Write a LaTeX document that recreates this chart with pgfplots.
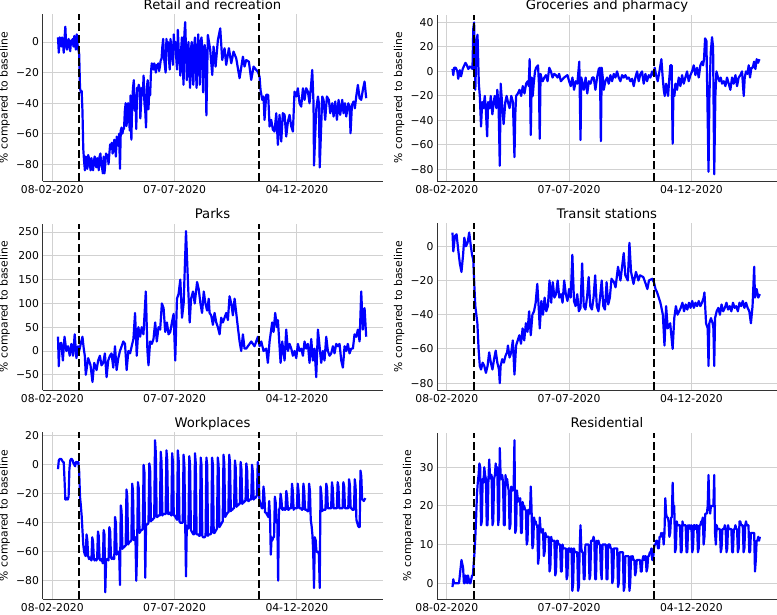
\documentclass[border=0pt]{standalone}
\usepackage{pgfplots}
\usepackage{pgfplotstable}
\pgfplotsset{compat=1.18}
\usepackage{fontspec}
\setmainfont{DejaVu Sans}

\definecolor{serblue}{RGB}{0,0,255}

% Workplaces, daily from 15-02-2020 (day 7)
\pgfplotstableread[row sep=\\, header=false]{
-3\\3\\4\\4\\4\\3\\2\\
2\\-10\\-24\\-24\\-23\\-24\\-22\\
-3\\3\\4\\4\\3\\1\\0\\
-1\\2\\2\\1\\2\\-5\\-22\\
-28\\-35\\-45\\-55\\-60\\-62\\-63\\
-48\\-52\\-63\\-65\\-64\\-65\\-66\\
-50\\-53\\-65\\-66\\-65\\-66\\-65\\
-46\\-49\\-65\\-66\\-65\\-66\\-68\\
-45\\-48\\-88\\-66\\-65\\-65\\-66\\
-43\\-46\\-64\\-65\\-64\\-65\\-65\\
-36\\-40\\-62\\-60\\-60\\-60\\-83\\
-28\\-32\\-58\\-57\\-57\\-56\\-56\\
-17\\-22\\-55\\-54\\-53\\-53\\-52\\
-13\\-18\\-52\\-51\\-50\\-80\\-60\\
-12\\-16\\-47\\-46\\-45\\-45\\-44\\
0\\-5\\-78\\-42\\-41\\-41\\-40\\
1\\-3\\-39\\-38\\-38\\-37\\-37\\
17\\8\\-36\\-36\\-35\\-35\\-35\\
9\\2\\-35\\-34\\-34\\-34\\-34\\
10\\3\\-34\\-34\\-33\\-34\\-35\\
8\\2\\-35\\-35\\-36\\-37\\-38\\
10\\3\\-39\\-40\\-40\\-40\\-40\\
7\\0\\-40\\-77\\-42\\-43\\-44\\
6\\0\\-45\\-46\\-47\\-48\\-48\\
8\\1\\-48\\-48\\-48\\-49\\-49\\
5\\0\\-49\\-50\\-50\\-50\\-49\\
5\\0\\-49\\-48\\-48\\-48\\-47\\
5\\0\\-47\\-47\\-46\\-45\\-44\\
5\\0\\-43\\-42\\-41\\-40\\-39\\
7\\1\\-36\\-35\\-34\\-33\\-33\\
7\\1\\-32\\-31\\-31\\-30\\-30\\
3\\-2\\-29\\-28\\-28\\-27\\-27\\
2\\-3\\-27\\-26\\-26\\-25\\-25\\
1\\-4\\-25\\-25\\-24\\-24\\-24\\
0\\-5\\-24\\-23\\-23\\-22\\-21\\
2\\-3\\-24\\-26\\-28\\-30\\-30\\
-15\\-20\\-33\\-33\\-34\\-35\\-36\\
-25\\-35\\-62\\-50\\-52\\-50\\-50\\
-22\\-26\\-40\\-38\\-80\\-31\\-30\\
-20\\-24\\-31\\-31\\-30\\-31\\-31\\
-18\\-22\\-31\\-31\\-30\\-30\\-30\\
-13\\-18\\-31\\-30\\-30\\-30\\-30\\
-13\\-18\\-30\\-30\\-30\\-31\\-31\\
-13\\-18\\-31\\-31\\-31\\-32\\-32\\
-13\\-18\\-38\\-42\\-48\\-60\\-85\\
-50\\-52\\-60\\-60\\-60\\-62\\-85\\
-15\\-20\\-32\\-31\\-31\\-31\\-31\\
-13\\-16\\-30\\-30\\-30\\-30\\-30\\
-12\\-16\\-30\\-30\\-30\\-30\\-30\\
-12\\-15\\-30\\-30\\-30\\-30\\-30\\
-12\\-15\\-30\\-30\\-30\\-30\\-30\\
-10\\-14\\-30\\-30\\-31\\-31\\-31\\
-10\\-15\\-38\\-40\\-42\\-43\\-43\\
-4\\-8\\-24\\-24\\-25\\-24\\-23\\
}\workdata

% Residential, daily from 15-02-2020 (day 7)
\pgfplotstableread[row sep=\\, header=false]{
-1\\1\\0\\0\\0\\0\\0\\
0\\0\\2\\4\\6\\5\\4\\
0\\0\\2\\1\\0\\2\\1\\
0\\0\\1\\2\\2\\5\\8\\
12\\17\\23\\26\\28\\31\\30\\
15\\16\\27\\26\\30\\28\\27\\
15\\15\\26\\32\\28\\27\\28\\
15\\16\\27\\28\\31\\28\\30\\
15\\17\\35\\28\\27\\28\\26\\
15\\15\\28\\26\\27\\25\\24\\
14\\15\\25\\24\\24\\25\\37\\
13\\14\\24\\22\\22\\21\\22\\
13\\13\\21\\20\\20\\19\\19\\
10\\11\\19\\18\\18\\25\\19\\
9\\10\\17\\16\\16\\15\\15\\
5\\7\\17\\14\\14\\13\\14\\
7\\8\\13\\12\\12\\12\\12\\
3\\4\\12\\11\\11\\11\\11\\
2\\3\\11\\11\\10\\10\\10\\
3\\3\\10\\9\\9\\9\\9\\
1\\2\\9\\9\\9\\8\\9\\
-2\\0\\9\\8\\8\\8\\8\\
-2\\-1\\9\\15\\9\\8\\8\\
1\\1\\10\\10\\10\\10\\10\\
1\\2\\11\\11\\11\\12\\11\\
1\\1\\11\\10\\11\\10\\10\\
3\\1\\10\\10\\10\\10\\10\\
1\\1\\10\\10\\10\\9\\9\\
0\\1\\9\\9\\9\\9\\9\\
-1\\0\\8\\8\\8\\8\\8\\
-2\\-1\\7\\7\\7\\7\\7\\
-2\\0\\7\\6\\7\\6\\6\\
2\\3\\6\\6\\6\\6\\6\\
3\\3\\6\\7\\6\\7\\7\\
3\\4\\7\\7\\8\\8\\9\\
6\\6\\9\\10\\10\\11\\11\\
9\\9\\12\\12\\13\\12\\13\\
10\\13\\22\\18\\17\\17\\16\\
12\\13\\17\\17\\26\\18\\20\\
8\\9\\16\\15\\15\\15\\15\\
8\\8\\16\\15\\15\\15\\15\\
8\\8\\15\\14\\15\\14\\15\\
8\\9\\15\\15\\14\\15\\15\\
8\\9\\15\\15\\16\\16\\17\\
10\\12\\18\\18\\18\\20\\28\\
20\\18\\20\\20\\20\\20\\28\\
13\\10\\15\\14\\14\\14\\14\\
8\\9\\14\\14\\14\\15\\14\\
8\\9\\15\\14\\14\\14\\14\\
8\\8\\14\\14\\15\\14\\14\\
8\\9\\16\\16\\15\\15\\15\\
8\\9\\15\\16\\15\\15\\15\\
8\\8\\13\\13\\13\\13\\13\\
3\\6\\11\\11\\12\\11\\12\\
}\residdata

\pgfplotsset{
  panel/.style={
    scale only axis, width=340pt, height=166.5pt,
    anchor=south west,
    xmin=-12, xmax=405,
    axis lines*=left,
    axis line style={black!80, line width=0.9pt},
    grid=major,
    grid style={black!18, line width=0.9pt},
    major tick length=0pt,
    xtick={0,150,300},
    xticklabels={08-02-2020,07-07-2020,04-12-2020},
    tick label style={font=\fontsize{10.8}{13}\selectfont},
    xticklabel style={yshift=-1pt},
    title style={font=\fontsize{13.2}{16}\selectfont, at={(0.5,1)}, anchor=south, inner sep=0pt, text depth=0pt, yshift=-1.5pt},
    ylabel={\% compared to baseline},
    ylabel style={font=\fontsize{10.8}{13}\selectfont, at={(axis description cs:-0.0956,0.5)}, anchor=south, inner sep=0pt},
  },
  series/.style={serblue, line width=2.2pt, line join=round, mark=none},
  vline/.style={black, line width=2.2pt, dash pattern=on 8pt off 3.5pt, mark=none},
}

\begin{document}
\begin{tikzpicture}
\useasboundingbox (0,0) rectangle (777pt,614pt);

% ---------------- Retail and recreation ----------------
\begin{axis}[panel, at={(42.5pt,433pt)}, title={Retail and recreation},
  ymin=-91, ymax=18, ytick={-80,-60,-40,-20,0}, yticklabels={−80,−60,−40,−20,0}]
\addplot[series] coordinates {
(7,3)(8,-7)(9,3)(10,2)(11,-3)(12,3)(13,1)(14,-7)(15,2)(16,10)(17,-2)(18,-5)(19,0)(20,2)(21,-3)(22,-6)(23,1)(24,-1)(25,2)(26,-3)(27,4)(28,-2)(29,-5)(30,5)(31,-2)(32,-5)(33,-8)
(34,-30)(35,-33)(36,-32)(37,-45)(38,-70)(39,-78)(40,-84)(41,-75)(42,-77)(43,-83)(44,-74)(45,-76)(46,-80)(47,-84)(48,-76)(49,-80)(50,-84)(51,-78)(52,-75)(53,-80)(54,-82)(55,-76)(56,-78)(57,-84)(58,-75)(59,-73)(60,-80)(61,-82)(62,-86)(63,-75)(64,-86)(65,-80)(66,-73)(67,-75)(68,-74)(69,-80)(70,-73)(71,-67)(72,-68)(73,-66)(74,-73)(75,-70)(76,-64)(77,-68)(78,-75)(79,-62)(80,-65)(81,-68)(82,-60)(83,-83)(84,-58)(85,-56)(86,-60)(87,-57)
(88,-57)(89,-45)(90,-40)(91,-55)(92,-50)(93,-40)(94,-48)(95,-58)(96,-35)(97,-64)(98,-40)(99,-30)(100,-25)(101,-45)(102,-35)(103,-57)(104,-30)(105,-32)(106,-28)(107,-30)(108,-50)(109,-38)(110,-30)(111,-35)(112,-22)(113,-40)(114,-45)(115,-56)(116,-30)(117,-25)(118,-44)(119,-30)(120,-35)(121,-20)(122,-14)(123,-15)(124,-18)(125,-14)(126,-16)(127,-20)(128,-15)(129,-17)(130,-14)(131,-19)(132,-16)(133,-12)(134,-11)(135,-3)(136,2)(137,-10)(138,-15)(139,-20)(140,2)(141,-5)(142,0)(143,-10)(144,-18)(145,2)(146,-5)(147,-8)(148,-15)(149,5)(150,-5)(151,0)(152,-10)(153,-18)(154,8)(155,-5)(156,-10)(157,-22)(158,-5)(159,3)(160,-15)(161,-28)(162,5)(163,13)(164,-5)(165,-25)(166,-10)(167,0)(168,-18)(169,-30)(170,-5)(171,0)(172,-20)(173,-28)(174,-3)(175,3)(176,-15)(177,-30)(178,-8)(179,5)(180,-12)(181,-28)(182,0)(183,3)(184,-5)(185,-33)(186,-5)(187,-2)(188,-10)(189,-48)
(190.8,4.6)(193.7,-5.2)(196.2,-21.6)(197.8,-3)(200.3,-16.1)(203.1,1.3)(206,8.9)(208.4,-11.8)(211.3,-4.1)(213.3,-15)(216.6,-4.1)(219.5,-13.9)(222.3,-6.3)(225.6,-10.7)(229.7,-23.7)(233.8,-9.6)(235.8,-16.1)(237.9,-11.8)(241.1,-12.9)(244,-24.8)(246.9,-16.1)(250.1,-18.3)(252.2,-19.4)(254.2,-22.7)(255.4,-31.4)(257.5,-37.9)(259.1,-35.7)(260.3,-51)(262.4,-34.6)(264.8,-34.6)(266.5,-55.3)(268.5,-51)(270.6,-57.5)(272.6,-58.6)(274.7,-46.6)(276.7,-67.3)(278.7,-47.7)(280.8,-65.1)(282.8,-46.6)(284.9,-47.7)(286.9,-61.9)(289,-52.1)(291,-47.7)(293.1,-55.3)(295.1,-58.6)(297.1,-32.5)(299.2,-35.7)(301.2,-30.3)(303.3,-40.1)(305.3,-42.3)(307.4,-30.3)(309.4,-37.9)(311.4,-30.3)(313.5,-32.5)(315.5,-40.1)(317.6,-27)(318.8,-18.3)(320.4,-40.1)(321,-80.8)(323.7,-44.4)(325.8,-35.7)(327,-40)(328,-82.1)(331.1,-35.7)(332.7,-37.9)(334.7,-51)(336.8,-35.7)(339.2,-37.9)(340.9,-46.6)(343.3,-40.1)(345,-48.8)(347,-39)(349.1,-51)(351.1,-37.9)(353.1,-47.7)(355.6,-37.9)(357.2,-46.6)(358.9,-40.1)(360.5,-48.8)(363,-40.1)(364.6,-42.3)(365.8,-59.7)(367.5,-41.2)(369.5,-39)(371.1,-43.4)(372.8,-35.7)(374.8,-28.1)(376.9,-36.8)(378.9,-37.9)(380.9,-31.4)(383,-25.9)(385,-36.8)
};
\addplot[vline] coordinates {(33,-91)(33,18)};
\addplot[vline] coordinates {(254,-91)(254,18)};
\end{axis}

% ---------------- Groceries and pharmacy ----------------
\begin{axis}[panel, at={(437pt,433pt)}, title={Groceries and pharmacy},
  ymin=-89.5, ymax=46.5, ytick={-80,-60,-40,-20,0,20,40}, yticklabels={−80,−60,−40,−20,0,20,40}]
\addplot[series] coordinates {
(7,2)(8,-3)(9,3)(11,3)(13,0)(14,-6)(16,1)(17.5,-4)(19.5,2)(21.5,5)(23,7)(24.7,5)(26.4,2)(28.4,4)(30.4,3)(31.5,2)(32.5,35)(33.5,40)(35,-15)(36.5,25)(37.7,30)(39.3,-10)(40.5,-20)(42,-45)(43.4,-25)(45,-30)(46.6,-20)(47.8,-30)(49.5,-53)(50.7,-25)(52.7,-30)(53.9,-20)(55.9,-35)(57.6,-25)(58.8,-20)(60.8,-30)(62,-15)(63.6,-30)(65,-77)(66.1,-10)(67.7,-25)(69.7,-43)(71.8,-25)(73.4,-20)(75,-25)(77,-30)(79.1,-20)(81.1,-25)(83,-70)(84,-35)(85.1,-20)(87.2,-18)(89.2,-15)(91.2,-20)(93.2,-12)(95.3,-18)(97.3,-10)(99.3,-8)(100.5,-12)(101.6,10)(103,-52)(104.2,-5)(105.4,-20)(106.6,-10)(108.2,0)(109.5,3)(110.7,4)(111.9,5)(113,-10)(114,-55)(115,-2)(116,-5)(117.6,-8)(119.6,-5)(121.6,-3)(123.6,-8)(125.7,3)(127.7,0)(129.7,-5)(131.8,-2)(133.8,-3)(135.8,-5)(137.8,-2)(139.9,-8)(143.9,-5)(148,-3)(150,-8)(152,-12)(154.1,-5)(156.1,-15)(158.1,-8)(160.1,-10)(162.5,8)(164,-56)(165,-5)(166.6,-10)(168.2,-15)(170.3,-5)(172.3,-18)(174.3,-8)(176.3,-10)(178.4,-5)(180.2,-5)(182.3,-15)(184.3,-5)(186.4,2)(187.8,3)(189,-57)(190,3)(191.3,-5)(192.5,-15)(194.5,-8)(196.6,-5)(198.6,-10)(200.7,-3)(202.7,-8)(204.8,-2)(206.8,-5)(208.8,0)(210.9,-5)(212.9,-8)(215,-3)(217,-5)(219.1,-3)(221.1,-6)(223.1,-5)(225.2,-8)(227.2,-6)(229.3,-12)(231.3,-5)(233.4,0)(235.4,-8)(237.5,-2)(239.5,0)(241.5,-10)(243.6,-2)(245.6,-8)(247.7,-3)(249.7,-5)(251.8,0)(253.4,-3)(255,3)(256.7,-3)(258.7,-8)(260.8,0)(263.2,10)(264.8,-5)(266.1,-15)(267.3,-20)(268.9,-10)(270.2,-15)(271.4,-20)(273,-5)(274.2,5)(275.8,5)(277,-59)(278,-15)(279.2,-20)(280.4,-10)(282.4,-15)(284.5,-5)(286.5,-12)(288.6,-3)(290.6,-10)(292.6,-5)(294.7,0)(296.7,-8)(298.8,-3)(300.8,0)(302.9,5)(304.9,-3)(306.9,3)(309,-5)(311,5)(313.1,8)(314.3,5)(315.5,10)(316.8,27)(318.4,25)(319.8,-30)(321,-82)(322.1,-20)(323.7,15)(325.3,28)(326.6,20)(328,-84)(329.4,-20)(330.7,0)(332.7,-5)(334.3,-8)(336,-5)(337.6,-10)(339.7,-8)(341.7,-12)(343.7,-5)(345.8,-10)(347.8,-15)(349.9,-5)(351.9,-10)(354,-3)(356,-12)(358,-5)(360.1,-3)(362.1,0)(364.2,-20)(365.4,-5)(367,0)(368.7,-2)(370.3,5)(371.9,-5)(373.6,3)(375.2,3)(376.9,8)(378.5,2)(380.1,10)(381.8,7)(383.4,10)
};
\addplot[vline] coordinates {(33,-89.5)(33,46.5)};
\addplot[vline] coordinates {(254,-89.5)(254,46.5)};
\end{axis}

% ---------------- Parks ----------------
\begin{axis}[panel, at={(42.5pt,224pt)}, title={Parks},
  ymin=-82, ymax=268, ytick={-50,0,50,100,150,200,250}, yticklabels={−50,0,50,100,150,200,250}]
\addplot[series] coordinates {
(7,30)(8,-32)(9,15)(11,17)(13,-20)(15,30)(17.3,0)(19.3,10)(21.4,-10)(23.4,15)(25.5,-10)(27.5,35)(29.6,-15)(31.6,10)(32.9,0)(34.9,15)(37,30)(38.6,5)(39.9,-10)(41.1,-50)(44,-15)(46.9,-30)(49.3,-65)(51.4,-25)(54.3,-40)(56.3,-20)(58.4,-10)(60.4,-30)(62.5,-25)(64.5,-5)(66.6,-55)(68.6,-20)(70.7,-10)(72.7,-5)(74.8,-35)(76.9,10)(78.9,-40)(81,-15)(83,0)(85.1,10)(87.1,20)(89.2,15)(91.2,-40)(93.3,0)(95.4,-5)(97.4,10)(99.5,25)(101.5,80)(103.6,-10)(105.6,50)(107.7,30)(109.7,50)(111.8,35)(114.7,125)(116.7,0)(118,-30)(120,20)(122.1,15)(124.1,25)(126.2,60)(128.2,20)(130.3,50)(132.3,45)(134.4,100)(136.5,90)(138.5,40)(140.6,60)(142.6,35)(144.7,40)(146.7,60)(148.8,78)(150.8,-20)(152.9,110)(154.9,120)(157,150)(159.1,70)(161.1,100)(164,252)(166.5,140)(168.5,60)(170.2,110)(172.6,125)(174.7,100)(177.6,145)(179.6,130)(181.7,100)(183.7,80)(185.8,125)(187.8,100)(189.9,85)(191.9,110)(192.9,80)(194.9,75)(197,55)(199,80)(201.1,60)(203.1,50)(205.2,35)(207.2,70)(209.2,60)(211.3,70)(213.3,80)(215.4,65)(217.4,115)(219.5,100)(221.5,75)(223.6,110)(225.6,80)(227.6,50)(229.7,20)(231.7,0)(233.8,35)(235.8,5)(237.9,5)(239.9,10)(242,15)(244,20)(246,15)(248.1,10)(250.1,20)(252.2,30)(254.2,10)(256.3,20)(259.1,0)(262.4,5)(264.4,-25)(266.5,20)(269.7,60)(271.4,40)(273.4,80)(275.5,50)(276.7,65)(278.7,10)(280,-25)(282,20)(284.9,-20)(286.9,45)(289,0)(291,15)(293.1,5)(295.1,-10)(297.1,0)(299.2,-15)(301.2,15)(303.3,0)(305.3,5)(307.4,-10)(309.4,20)(311.4,5)(313.5,15)(315.5,-25)(317.6,25)(319.6,-20)(321.7,5)(323.7,-55)(325.8,45)(327.8,10)(329.8,-25)(331.9,0)(333.9,-20)(336,30)(338,0)(340.1,-10)(342.1,-5)(344.2,10)(346.2,-5)(348.2,15)(350.3,10)(352.3,15)(354.4,-20)(356.4,-35)(358.5,10)(360.5,0)(362.5,15)(364.6,-5)(366.6,5)(368.7,5)(370.7,35)(372.8,30)(374.8,45)(376.9,20)(378.9,125)(380.9,45)(383,90)(385,30)
};
\addplot[vline] coordinates {(33,-82)(33,268)};
\addplot[vline] coordinates {(254,-82)(254,268)};
\end{axis}

% ---------------- Transit stations ----------------
\begin{axis}[panel, at={(437pt,224pt)}, title={Transit stations},
  ymin=-84, ymax=13.3, ytick={-80,-60,-40,-20,0}, yticklabels={−80,−60,−40,−20,0}]
\addplot[series] coordinates {
(7,8)(8,-3)(10,6)(12,7)(14,-2)(16,-10)(18,-15)(20,-5)(21.5,5)(23.5,0)(25.5,2)(27.5,8)(29.5,0)(31,-5)(32.5,-8)(33.5,-20)(35,-35)(37.5,-45)(39,-60)(40.5,-70)(42,-72)(44,-68)(46,-70)(48,-74)(50,-70)(52,-62)(54,-68)(56,-72)(58,-66)(60,-61)(62,-68)(64,-72)(65,-80)(66,-70)(68,-66)(70,-68)(72,-64)(74,-62)(75,-58)(77,-65)(79,-62)(81,-55)(83,-75)(85,-58)(87,-55)(89,-52)(91,-57)(93,-48)(95,-55)(97,-45)(99,-50)(101,-38)(103,-52)(105,-40)(107,-38)(109,-33)(111,-22)(113,-38)(114,-48)(116,-32)(118,-40)(120,-30)(122,-38)(124,-35)(126,-20)(128,-33)(130,-21)(132,-30)(134,-28)(136,-20)(138,-30)(140,-28)(142,-33)(144,-20)(146,-28)(148,-32)(150,-25)(152,-30)(154,-5)(156,-32)(158,-35)(160,-28)(162,-38)(164,-36)(166,-10)(168,-35)(170,-37)(172,-30)(174,-18)(176,-35)(178,-37)(180,-30)(182,-17)(184,-35)(186,-38)(188,-30)(190,-20)(192,-35)(194,-37)(196,-21)(198,-34)(200,-30)(202,-19)(205,-21)(207,-24)(210,-12)(213,-20)(217,-4)(219,-17)(222,-20)(224,2)(226,-15)(229,-22)(232,-15)(235,-20)(237,-17)(241,-18)(244,-22)(246,-25)(248,-20)(252,-19)(254,-21)(256,-25)(258,-27)(260,-30)(262,-33)(265,-40)(267,-58)(269,-35)(271,-48)(274,-45)(276,-55)(277,-60)(279,-42)(281,-35)(283,-40)(285,-38)(287,-36)(289,-33)(291,-38)(293,-34)(295,-37)(297,-33)(299,-36)(301,-32)(303,-36)(305,-33)(307,-35)(309,-32)(311,-35)(313,-33)(315,-30)(316,-27)(318,-45)(320,-48)(321,-70)(322,-45)(324,-42)(326,-45)(327,-48)(328,-70)(329,-42)(331,-38)(333,-36)(335,-40)(337,-34)(339,-38)(341,-36)(343,-33)(345,-37)(347,-35)(349,-38)(351,-33)(353,-36)(355,-35)(357,-38)(359,-33)(361,-35)(363,-32)(365,-36)(367,-33)(369,-36)(371,-38)(373,-45)(375,-35)(377,-12)(378,-30)(380,-25)(382,-30)(384,-28)
};
\addplot[vline] coordinates {(33,-84)(33,13.3)};
\addplot[vline] coordinates {(254,-84)(254,13.3)};
\end{axis}

% ---------------- Workplaces ----------------
\begin{axis}[panel, at={(42.5pt,15pt)}, title={Workplaces},
  ymin=-92.6, ymax=22.3, ytick={-80,-60,-40,-20,0,20}, yticklabels={−80,−60,−40,−20,0,20}]
\addplot[series] table[x expr=\coordindex+7, y index=0] {\workdata};
\addplot[vline] coordinates {(33,-92.6)(33,22.3)};
\addplot[vline] coordinates {(254,-92.6)(254,22.3)};
\end{axis}

% ---------------- Residential ----------------
\begin{axis}[panel, at={(437pt,15pt)}, title={Residential},
  ymin=-4.1, ymax=39, ytick={0,10,20,30}, yticklabels={0,10,20,30},
  ylabel style={at={(axis description cs:-0.0691,0.5)}}]
\addplot[series] table[x expr=\coordindex+7, y index=0] {\residdata};
\addplot[vline] coordinates {(33,-4.1)(33,39)};
\addplot[vline] coordinates {(254,-4.1)(254,39)};
\end{axis}

\end{tikzpicture}
\end{document}
